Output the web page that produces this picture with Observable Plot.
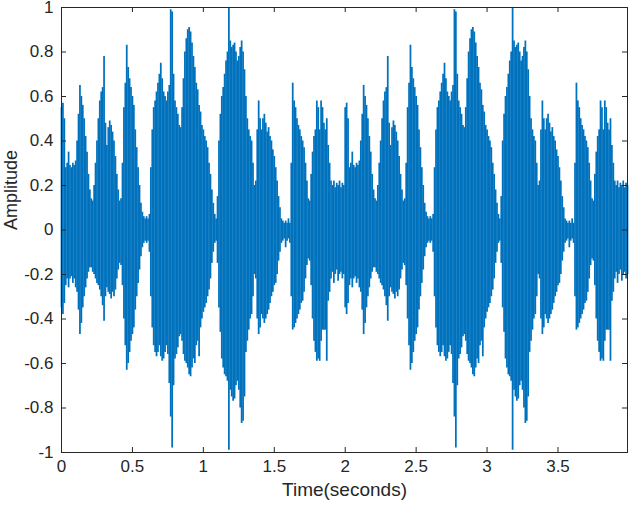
<!DOCTYPE html>
<html>
<head>
<meta charset="utf-8">
<script src="https://cdn.jsdelivr.net/npm/d3@7"></script>
<script src="https://cdn.jsdelivr.net/npm/@observablehq/plot@0.6"></script>
<style>
  html, body { margin: 0; padding: 0; background: #ffffff; }
  #chart { width: 629px; height: 508px; }
</style>
</head>
<body>
<div id="chart"></div>
<script>
// ---- Data ----
// The recording is a 2-second take played twice; envelope readings every 0.01 s.
const sampleStep = 0.01;     // seconds between readings
const takeLength = 2.0;      // seconds, length of one take
const takeCount = 2;
const timeEnd = 3.99;        // last sample time (x-axis end)

// upper envelope (max amplitude) per 0.01 s, t = 0.00 ... 1.99
const takeUpper = [
  0.55,0.57,0.50,0.28,0.30,0.35,0.29,0.28,0.30,0.29,
  0.31,0.40,0.52,0.65,0.60,0.56,0.50,0.42,0.35,0.25,
  0.18,0.14,0.13,0.20,0.30,0.40,0.50,0.58,0.62,0.64,
  0.78,0.48,0.38,0.46,0.49,0.47,0.44,0.40,0.33,0.25,
  0.18,0.13,0.14,0.30,0.55,0.66,0.83,0.73,0.68,0.64,
  0.60,0.56,0.45,0.37,0.28,0.20,0.12,0.08,0.06,0.05,
  0.06,0.05,0.07,0.28,0.45,0.55,0.58,0.62,0.66,0.70,
  0.75,0.68,0.62,0.60,0.58,0.62,0.65,0.99,0.98,0.70,
  0.58,0.55,0.52,0.47,0.46,0.55,0.68,0.80,0.86,0.90,
  0.91,0.89,0.84,0.78,0.73,0.66,0.63,0.56,0.53,0.47,
  0.45,0.42,0.40,0.37,0.30,0.25,0.18,0.12,0.07,0.05,
  0.15,0.40,0.52,0.60,0.64,0.70,0.76,0.80,1.00,0.85,
  0.82,0.83,0.84,0.80,0.76,0.78,0.82,0.85,0.80,0.72,
  0.60,0.50,0.45,0.42,0.40,0.30,0.20,0.22,0.45,0.58,
  0.50,0.45,0.50,0.52,0.48,0.44,0.46,0.42,0.40,0.36,
  0.33,0.28,0.22,0.15,0.10,0.05,0.04,0.03,0.04,0.03,
  0.05,0.03,0.30,0.66,0.58,0.55,0.50,0.47,0.45,0.42,
  0.40,0.37,0.30,0.22,0.14,0.13,0.25,0.35,0.42,0.45,
  0.58,0.55,0.45,0.58,0.55,0.48,0.45,0.50,0.38,0.30,
  0.22,0.20,0.22,0.19,0.21,0.20,0.22,0.19,0.21,0.20
];
// lower envelope (min amplitude) per 0.01 s, t = 0.00 ... 1.99
const takeLower = [
  -0.35,-0.38,-0.33,-0.25,-0.22,-0.26,-0.22,-0.21,-0.24,-0.22,
  -0.26,-0.28,-0.36,-0.47,-0.42,-0.35,-0.30,-0.26,-0.22,-0.19,
  -0.17,-0.17,-0.19,-0.20,-0.22,-0.24,-0.25,-0.27,-0.30,-0.34,
  -0.41,-0.30,-0.26,-0.28,-0.29,-0.31,-0.28,-0.30,-0.27,-0.22,
  -0.18,-0.15,-0.16,-0.25,-0.40,-0.52,-0.63,-0.60,-0.55,-0.50,
  -0.47,-0.44,-0.36,-0.30,-0.24,-0.18,-0.12,-0.08,-0.06,-0.05,
  -0.06,-0.05,-0.10,-0.30,-0.44,-0.52,-0.55,-0.57,-0.55,-0.52,
  -0.57,-0.59,-0.58,-0.55,-0.52,-0.56,-0.69,-0.84,-0.98,-0.70,
  -0.58,-0.56,-0.53,-0.48,-0.47,-0.50,-0.56,-0.59,-0.60,-0.62,
  -0.65,-0.66,-0.62,-0.58,-0.60,-0.52,-0.50,-0.57,-0.44,-0.40,
  -0.37,-0.35,-0.33,-0.30,-0.27,-0.22,-0.15,-0.10,-0.06,-0.05,
  -0.15,-0.35,-0.46,-0.58,-0.62,-0.65,-0.66,-0.68,-0.99,-0.72,
  -0.75,-0.77,-0.76,-0.70,-0.68,-0.72,-0.80,-0.87,-0.86,-0.75,
  -0.55,-0.50,-0.45,-0.40,-0.38,-0.30,-0.20,-0.22,-0.40,-0.47,
  -0.44,-0.38,-0.40,-0.42,-0.40,-0.38,-0.36,-0.33,-0.30,-0.28,
  -0.25,-0.24,-0.20,-0.14,-0.10,-0.06,-0.05,-0.04,-0.08,-0.05,
  -0.04,-0.06,-0.30,-0.45,-0.44,-0.42,-0.40,-0.38,-0.36,-0.33,
  -0.32,-0.28,-0.22,-0.16,-0.13,-0.14,-0.25,-0.40,-0.50,-0.55,
  -0.59,-0.58,-0.59,-0.50,-0.45,-0.45,-0.45,-0.59,-0.32,-0.28,
  -0.22,-0.19,-0.24,-0.20,-0.18,-0.23,-0.20,-0.19,-0.22,-0.20
];

const xTicks = [0, 0.5, 1, 1.5, 2, 2.5, 3, 3.5];
const yTicks = [-1, -0.8, -0.6, -0.4, -0.2, 0, 0.2, 0.4, 0.6, 0.8, 1];
const xLabel = "Time(seconds)";
const yLabel = "Amplitude";

// ---- Build the sample table ----
const samples = [];
for (let r = 0; r < takeCount; r++) {
  for (let i = 0; i < takeUpper.length; i++) {
    const t = Math.round((r * takeLength + i * sampleStep) * 100) / 100;
    if (t <= timeEnd) samples.push({t, hi: takeUpper[i], lo: takeLower[i]});
  }
}

// ---- Layout / style ----
const W = 629, H = 508;
const mL = 61, mR = 2, mT = 7, mB = 56;
const innerW = W - mL - mR, innerH = H - mT - mB;
const ink = "#262626";
const lineBlue = "#0072BD";
const font = 'Arial, "Liberation Sans", Helvetica, sans-serif';
const tickLen = 5;

const chart = Plot.plot({
  width: W,
  height: H,
  marginLeft: mL, marginRight: mR, marginTop: mT, marginBottom: mB,
  style: {fontFamily: font, fontSize: "17px", color: ink, background: "#ffffff", overflow: "visible"},
  x: {domain: [0, timeEnd]},
  y: {domain: [-1, 1]},
  marks: [
    Plot.ruleX(samples, {x: "t", y1: "lo", y2: "hi", stroke: lineBlue, strokeWidth: 1.75}),
    Plot.frame({stroke: ink, strokeWidth: 1}),
    Plot.ruleX(xTicks, {x: d => d, insetTop: innerH - tickLen, stroke: ink}),
    Plot.ruleX(xTicks, {x: d => d, insetBottom: innerH - tickLen, stroke: ink}),
    Plot.ruleY(yTicks, {y: d => d, insetRight: innerW - tickLen, stroke: ink}),
    Plot.ruleY(yTicks, {y: d => d, insetLeft: innerW - tickLen, stroke: ink}),
    Plot.axisX({ticks: xTicks, tickSize: 0, tickPadding: 7, tickFormat: d => String(d), label: null, fontSize: 17, fill: ink}),
    Plot.axisY({ticks: yTicks, tickSize: 0, tickPadding: 8, tickFormat: d => String(d), label: null, fontSize: 17, fill: ink}),
    Plot.text([xLabel], {text: d => d, frameAnchor: "bottom", dy: 43, fontSize: 19, fill: ink}),
    Plot.text([yLabel], {text: d => d, frameAnchor: "left", dx: -50, rotate: -90, fontSize: 18, fill: ink})
  ]
});
document.getElementById("chart").appendChild(chart);
</script>
</body>
</html>
